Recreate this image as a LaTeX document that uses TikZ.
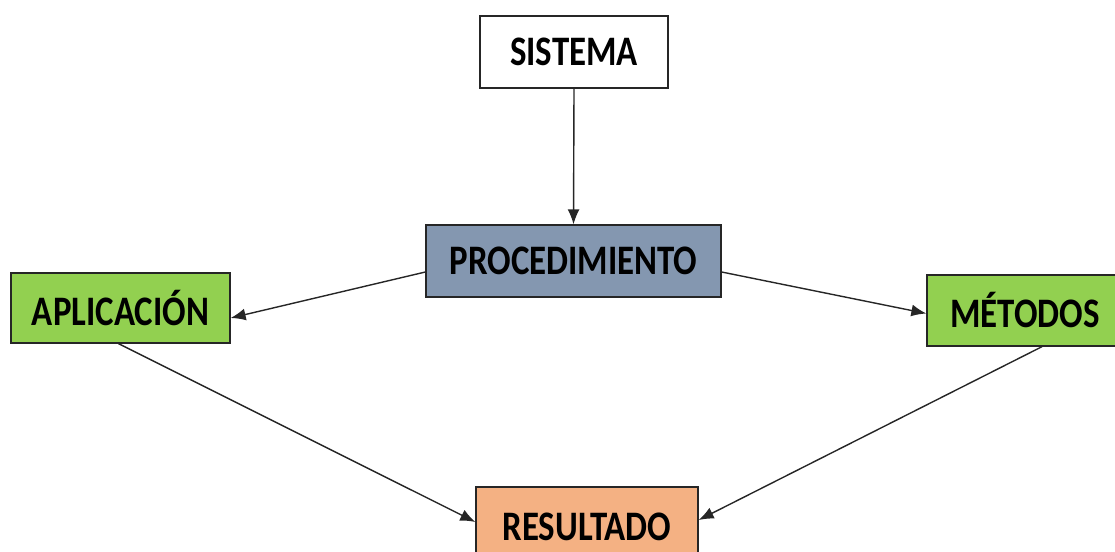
\documentclass[tikz,border=0pt]{standalone}
\usepackage{fontspec}
\setmainfont{Carlito}
\usepackage{graphicx}
\usepackage{xcolor}
\usetikzlibrary{arrows.meta}
\definecolor{azulgris}{HTML}{8497B0}
\definecolor{verde}{HTML}{92D050}
\definecolor{naranja}{HTML}{F4B183}
\newcommand{\etiq}[1]{\scalebox{0.83}[1]{#1}}

\begin{document}
\begin{tikzpicture}[x=1pt,y=-1pt]
\tikzset{>={Latex[width=12pt,length=15pt]}}
\tikzstyle{caja} =[rectangle, draw = black!85, line width=1.3pt, inner sep=0pt,font=\fontsize{42}{42}\selectfont\bfseries]
\tikzstyle{flecha} =[->, line width=1.4pt, draw = black!85]

\useasboundingbox (0,0) rectangle (1115,551);
\clip (0,0) rectangle (1115,551);

\node[caja,fill=white,minimum width=188pt,minimum height=72pt](sis) at (574,52){\etiq{SISTEMA}};
\node[caja,fill=azulgris,minimum width=295pt,minimum height=72pt](proc) at (573.5,261){\etiq{PROCEDIMIENTO}};
\node[caja,fill=verde,minimum width=219pt,minimum height=70pt](apl) at (120.5,308){\etiq{APLICACIÓN}};
\node[caja,fill=verde,minimum width=196pt,minimum height=71pt](met) at (1025,310.5){\etiq{MÉTODOS}};
\node[caja,fill=naranja,minimum width=222pt,minimum height=80pt](res) at (587,527){\etiq{RESULTADO}};

\draw[flecha] (sis.south) -- (proc.north);
\draw[flecha] ([yshift=-11pt]proc.west) -- ([yshift=-10pt]apl.east);
\draw[flecha] ([yshift=-11pt]proc.east) -- ([yshift=-3pt]met.west);
\draw[flecha] ([xshift=-2pt]apl.south) -- ([yshift=5pt]res.west);
\draw[flecha] ([xshift=17pt]met.south) -- ([yshift=7pt]res.east);

\end{tikzpicture}
\end{document}
